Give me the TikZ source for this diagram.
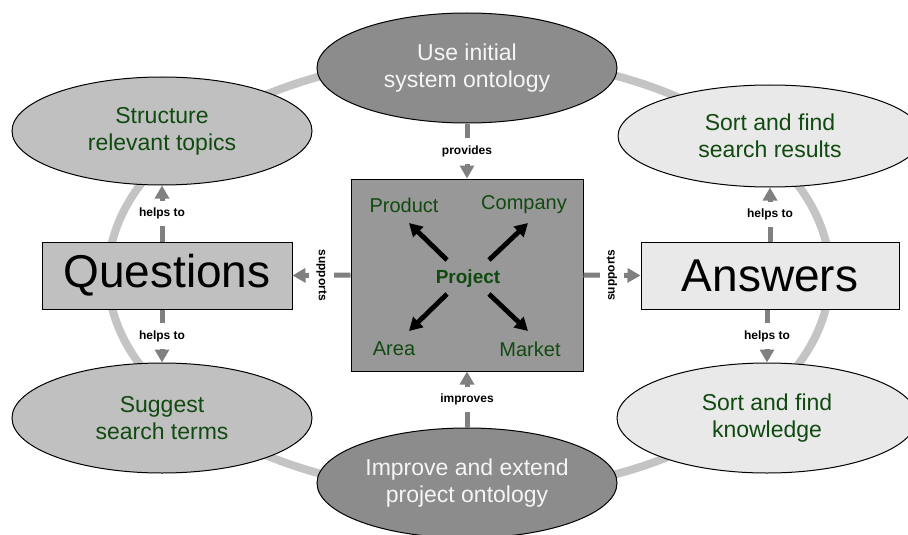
\documentclass[tikz,border=0pt]{standalone}
\usepackage{fontspec}
\setmainfont{Liberation Sans}
\usetikzlibrary{arrows.meta,shapes.geometric}

\definecolor{darkfill}{RGB}{140,140,140}
\definecolor{corefill}{RGB}{152,152,152}
\definecolor{lightfill}{RGB}{192,192,192}
\definecolor{palefill}{RGB}{233,233,233}
\definecolor{ringgray}{RGB}{196,196,196}
\definecolor{linkgray}{RGB}{128,128,128}
\definecolor{leafgreen}{RGB}{16,74,16}
\definecolor{softwhite}{RGB}{245,245,245}

\begin{document}
\begin{tikzpicture}[x=1pt,y=-1pt,
  oval/.style={ellipse, draw=black, line width=1pt, inner sep=0pt, align=center,
    minimum width=300pt, minimum height=110pt, font=\fontsize{23}{27}\selectfont},
  darkoval/.style={oval, fill=darkfill, text=softwhite},
  lightoval/.style={oval, fill=lightfill, text=leafgreen},
  paleoval/.style={oval, fill=palefill, text=leafgreen},
  bigbox/.style={rectangle, draw=black, line width=1pt, inner sep=0pt,
    minimum height=67pt, font=\fontsize{46}{50}\selectfont},
  word/.style={text=leafgreen, inner sep=0pt, font=\fontsize{20}{22}\selectfont},
  link/.style={draw=linkgray, line width=5pt, -{Triangle[width=14pt,length=13pt]}},
  linklabel/.style={fill=white, text=black, inner xsep=1pt, inner ysep=7pt,
    font=\bfseries\fontsize{12}{13}\selectfont},
  spoke/.style={draw=black, line width=4.8pt, -{Triangle[width=14pt,length=13pt]}}
]
\useasboundingbox (0,0) rectangle (908,535);
\fill[white] (0,0) rectangle (908,535);

% the cycle ring behind everything
\draw[ringgray, line width=8pt] (469,275) ellipse [x radius=361pt, y radius=218pt];

% ellipses round the ring
\node[darkoval] (init) at (467,68) {Use initial\\system ontology};
\node[darkoval] (extend) at (467,483) {Improve and extend\\project ontology};
\node[lightoval, minimum height=108pt] (struct) at (162,131) {Structure\\relevant topics};
\node[lightoval] (suggest) at (162,418) {Suggest\\search terms};
\node[paleoval, minimum width=304pt, minimum height=102pt] (results) at (770,136) {Sort and find\\search results};
\node[paleoval] (know) at (767,418) {Sort and find\\knowledge};

% side boxes
\node[bigbox, fill=lightfill, minimum width=250pt] (quest) at (167,275.5) {Questions};
\node[bigbox, fill=palefill, minimum width=258pt] (answ) at (770,275.5) {Answers};

% central project box
\node[rectangle, draw=black, line width=1pt, fill=corefill, minimum width=232pt,
  minimum height=192pt] (core) at (467,275) {};
\node[word, font=\bfseries\fontsize{19}{21}\selectfont] (proj) at (468,279) {Project};
\node[word] (product) at (404,205) {Product};
\node[word] (company) at (524,205) {Company};
\node[word] (area) at (394,349) {Area};
\node[word] (market) at (530,349) {Market};

% spoke ends
\coordinate (tP) at (447,260); \coordinate (hP) at (409,223);
\coordinate (tC) at (489,260); \coordinate (hC) at (528,223);
\coordinate (tA) at (447,294); \coordinate (hA) at (409,331);
\coordinate (tM) at (489,294); \coordinate (hM) at (528,331);
\draw[spoke] (tP) -- (hP);
\draw[spoke] (tC) -- (hC);
\draw[spoke] (tA) -- (hA);
\draw[spoke] (tM) -- (hM);

% labelled links
\draw[link] (init.south) -- node[linklabel] {provides} (core.north);
\draw[link] (extend.north) -- node[linklabel] {improves} (core.south);
\draw[link] (core.west) -- node[linklabel, rotate=-90] {supports} (quest.east);
\draw[link] (core.east) -- node[linklabel, rotate=90] {supports} (answ.west);
\draw[link] (struct.south |- quest.north) -- node[linklabel] {helps to} (struct.south);
\draw[link] (suggest.north |- quest.south) -- node[linklabel] {helps to} (suggest.north);
\draw[link] (results.south |- answ.north) -- node[linklabel] {helps to} (results.south);
\draw[link] (know.north |- answ.south) -- node[linklabel] {helps to} (know.north);
\end{tikzpicture}
\end{document}
